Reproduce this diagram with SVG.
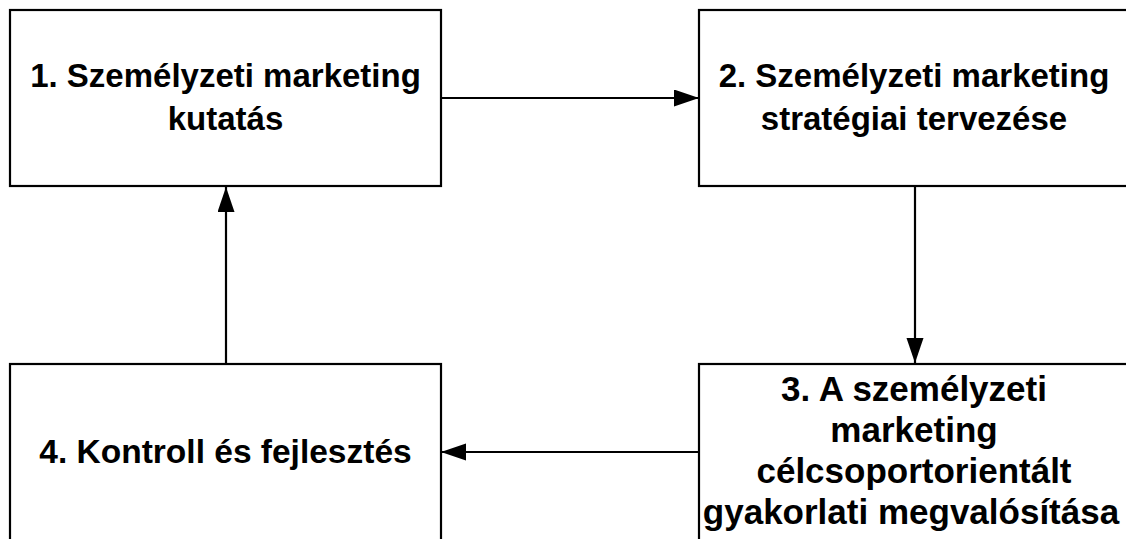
<svg xmlns="http://www.w3.org/2000/svg" width="1126" height="539" viewBox="0 0 1126 539">
  <style>
    .box { fill: #ffffff; stroke: #000000; stroke-width: 2.2; }
    .label { font-family: "Liberation Sans", Arial, sans-serif; font-weight: bold; fill: #000000; text-anchor: middle; }
    .edge { fill: none; stroke: #000000; stroke-width: 2.2; marker-end: url(#arrow); }
  </style>
  <defs>
    <marker id="arrow" markerUnits="userSpaceOnUse" markerWidth="26" markerHeight="18" refX="25" refY="8.5" orient="auto">
      <path d="M0,0 L25,8.5 L0,17 Z" fill="#000000"/>
    </marker>
  </defs>
  <rect width="1126" height="539" fill="#ffffff"/>

  <g id="node-research">
    <rect class="box" x="10" y="10" width="431" height="176"/>
    <text class="label" font-size="33" x="225.5" y="87">1. Személyzeti marketing</text>
    <text class="label" font-size="33" x="225.5" y="130">kutatás</text>
  </g>

  <g id="node-strategy">
    <rect class="box" x="699" y="10" width="432" height="176"/>
    <text class="label" font-size="33" x="914" y="87">2. Személyzeti marketing</text>
    <text class="label" font-size="33" x="914" y="130">stratégiai tervezése</text>
  </g>

  <g id="node-implementation">
    <rect class="box" x="699" y="364" width="432" height="200"/>
    <text class="label" font-size="35" x="914" y="401">3. A személyzeti</text>
    <text class="label" font-size="35" x="914" y="442">marketing</text>
    <text class="label" font-size="35" x="914" y="483">célcsoportorientált</text>
    <text class="label" font-size="35" x="911" y="524">gyakorlati megvalósítása</text>
  </g>

  <g id="node-control">
    <rect class="box" x="10" y="364" width="431" height="200"/>
    <text class="label" font-size="33.5" x="225.5" y="463">4. Kontroll és fejlesztés</text>
  </g>

  <g id="connectors">
    <line class="edge" x1="441" y1="98" x2="699" y2="98"/>
    <line class="edge" x1="915" y1="186" x2="915" y2="363"/>
    <line class="edge" x1="699" y1="452" x2="441" y2="452"/>
    <line class="edge" x1="226" y1="364" x2="226" y2="187"/>
  </g>
</svg>
